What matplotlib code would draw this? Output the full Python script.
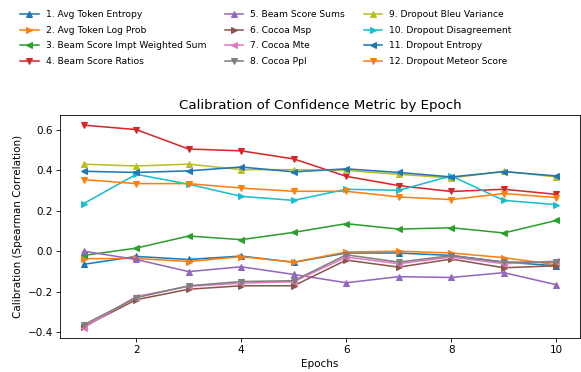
import matplotlib
matplotlib.use("Agg")
import matplotlib.pyplot as plt

epochs = [1, 2, 3, 4, 5, 6, 7, 8, 9, 10]

labels = [
    "1. Avg Token Entropy",
    "2. Avg Token Log Prob",
    "3. Beam Score Impt Weighted Sum",
    "4. Beam Score Ratios",
    "5. Beam Score Sums",
    "6. Cocoa Msp",
    "7. Cocoa Mte",
    "8. Cocoa Ppl",
    "9. Dropout Bleu Variance",
    "10. Dropout Disagreement",
    "11. Dropout Entropy",
    "12. Dropout Meteor Score",
]

avg_token_entropy = [-0.064, -0.025, -0.040, -0.023, -0.054, -0.008, -0.008, -0.020, -0.053, -0.071]
avg_token_log_prob = [-0.036, -0.035, -0.050, -0.026, -0.053, -0.003, 0.001, -0.008, -0.031, -0.066]
beam_impt_weighted = [-0.020, 0.016, 0.076, 0.058, 0.094, 0.137, 0.110, 0.117, 0.091, 0.153]
beam_score_ratios = [0.624, 0.602, 0.506, 0.497, 0.457, 0.371, 0.325, 0.296, 0.307, 0.282]
beam_score_sums = [0.001, -0.040, -0.100, -0.076, -0.114, -0.155, -0.125, -0.129, -0.105, -0.165]
cocoa_msp = [-0.372, -0.239, -0.187, -0.170, -0.170, -0.043, -0.078, -0.038, -0.081, -0.071]
cocoa_mte = [-0.378, -0.223, -0.173, -0.157, -0.150, -0.028, -0.061, -0.028, -0.061, -0.048]
cocoa_ppl = [-0.363, -0.229, -0.170, -0.149, -0.145, -0.017, -0.053, -0.021, -0.053, -0.053]
dropout_bleu_var = [0.431, 0.422, 0.431, 0.404, 0.404, 0.400, 0.381, 0.363, 0.396, 0.368]
dropout_disagree = [0.236, 0.381, 0.332, 0.272, 0.252, 0.307, 0.302, 0.373, 0.252, 0.231]
dropout_entropy = [0.396, 0.390, 0.398, 0.417, 0.393, 0.408, 0.390, 0.368, 0.394, 0.373]
dropout_meteor = [0.355, 0.335, 0.335, 0.313, 0.297, 0.297, 0.269, 0.256, 0.286, 0.266]

series = [avg_token_entropy, avg_token_log_prob, beam_impt_weighted, beam_score_ratios,
          beam_score_sums, cocoa_msp, cocoa_mte, cocoa_ppl, dropout_bleu_var,
          dropout_disagree, dropout_entropy, dropout_meteor]

markers = ["^", ">", "<", "v"]
colors = plt.rcParams["axes.prop_cycle"].by_key()["color"]

DPI = 75
fig = plt.figure(figsize=(581 / DPI, 372 / DPI), dpi=DPI)
ax = fig.add_axes([60 / 581, 34 / 372, 520 / 581, 223 / 372])

for i, (lab, vals) in enumerate(zip(labels, series)):
    ax.plot(epochs, vals, marker=markers[i % 4], color=colors[i % 10], label=lab)

ax.set_title("Calibration of Confidence Metric by Epoch", fontsize=12.8)
ax.set_xlabel("Epochs")
ax.set_ylabel("Calibration (Spearman Correlation)")

handles, labs = ax.get_legend_handles_labels()
fig.legend(handles, labs, loc="upper left", bbox_to_anchor=(12 / 581, 1 - 2 / 372),
           ncol=3, frameon=False, fontsize=8.8, labelspacing=0.72)

fig.savefig("out.png", dpi=DPI)
